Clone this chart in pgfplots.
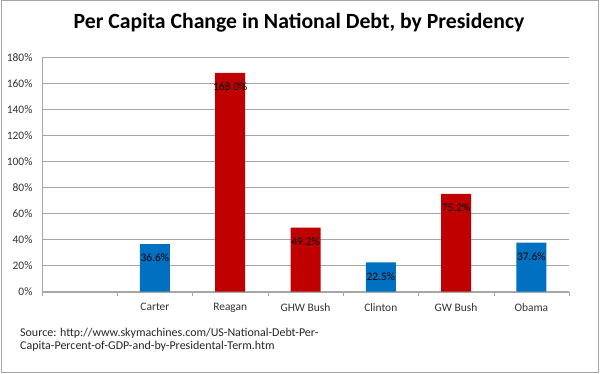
\documentclass[border=0pt]{standalone}
\usepackage{pgfplots}
\pgfplotsset{compat=1.18}
\usepackage{fontspec}
\setmainfont{Carlito}
\definecolor{dblue}{HTML}{0070C0}
\definecolor{dred}{HTML}{C00000}
\definecolor{gridg}{HTML}{A6A6A6}
\begin{document}
\begin{tikzpicture}[x=1bp,y=1bp]
\path[use as bounding box] (0,0) rectangle (600,373);
\draw[gray!70, line width=1bp] (1,1) rectangle (598,372);
\node[font=\bfseries\fontsize{21.8}{24}\selectfont] at (299,350) {Per Capita Change in National Debt, by Presidency};
\begin{axis}[
  at={(42bp,81.3bp)}, anchor=south west,
  scale only axis, width=527bp, height=234.4bp,
  xmin=-0.5, xmax=6.5, ymin=0, ymax=180,
  axis x line*=bottom, axis y line*=left,
  axis line style={gridg, -},
  xtick={1,2,3,4,5,6},
  xticklabels={Carter,Reagan,GHW Bush,Clinton,GW Bush,Obama},
  major x tick style={draw=none},
  minor xtick={-0.5,0.5,1.5,2.5,3.5,4.5,5.5,6.5},
  minor x tick style={gridg},
  minor tick length=4bp,
  xtick pos=bottom,
  x tick label style={yshift=-4bp},
  ytick={0,20,...,180},
  yticklabel={\pgfmathprintnumber{\tick}\%},
  ytick style={draw=none},
  ytick pos=left,
  y tick label style={xshift=-6bp},
  ymajorgrids, grid style={gridg, line width=0.8bp},
  tick label style={font=\fontsize{11.5}{13}\selectfont, text=black!80},
  /pgf/number format/assume math mode=true,
  ybar, bar width=30bp, bar shift=0pt,
  nodes near coords={\pgfmathprintnumber[fixed,fixed zerofill,precision=1]{\pgfplotspointmeta}\%},
  every node near coord/.style={anchor=center, yshift=-14bp, font=\fontsize{11.5}{13}\selectfont, text=black},
]
\addplot[fill=dblue, draw=none] coordinates {(1,36.6) (4,22.5) (6,37.6)};
\addplot[fill=dred, draw=none] coordinates {(2,168.0) (3,49.2) (5,75.2)};
\end{axis}
\node[anchor=north west, align=left, font=\fontsize{12}{13.5}\selectfont, text=black!85, inner sep=0pt] at (20,45) {Source: http://www.skymachines.com/US-National-Debt-Per-\\Capita-Percent-of-GDP-and-by-Presidental-Term.htm};
\end{tikzpicture}
\end{document}
